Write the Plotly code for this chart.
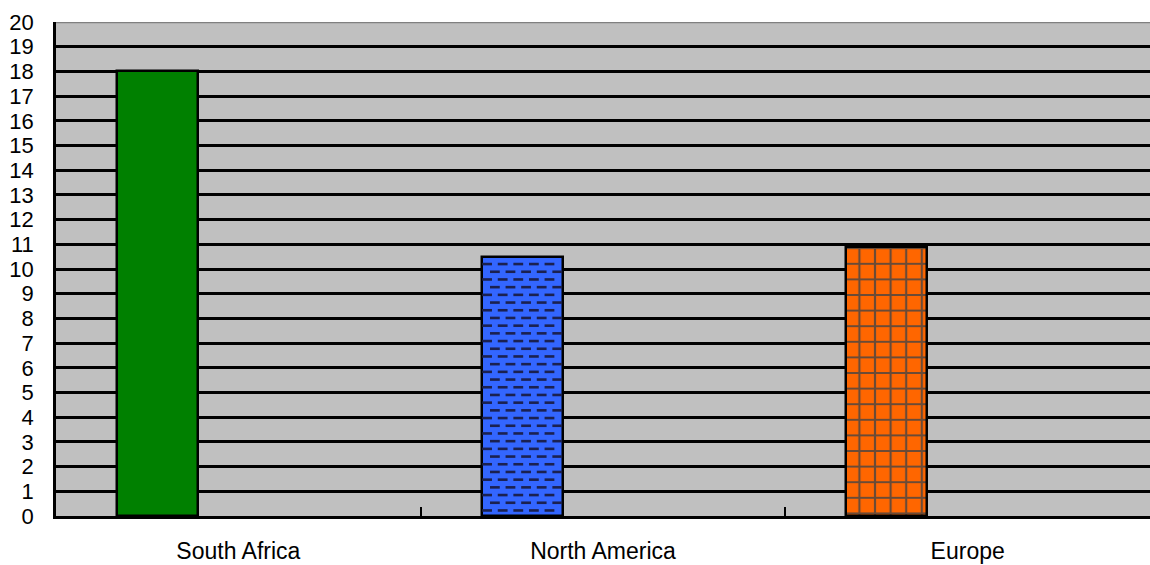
import plotly.graph_objects as go

# Chart data
regions = ["South Africa", "North America", "Europe"]
values = [18, 10.5, 10.9]
bar_colors = ["#008000", "#3366FF", "#FF6600"]
bar_patterns = ["", "", "+"]
y_ticks = list(range(0, 21))

# Bar geometry in category units (each category spans 1.0)
BAR_WIDTH = 0.222
BAR_OFFSET = -0.333

fig = go.Figure()

fig.add_trace(go.Bar(
    x=regions,
    y=values,
    width=BAR_WIDTH,
    offset=BAR_OFFSET,
    marker=dict(
        color=bar_colors,
        line=dict(color="black", width=2.5),
        pattern=dict(shape=bar_patterns, size=15.6, solidity=0.26,
                     fgcolor="#000000", fgopacity=0.8),
    ),
    showlegend=False,
    hoverinfo="x+y",
))

# Dashed fill texture for the North America bar, laid out on a numeric
# overlay axis that shares the category coordinates (0, 1, 2).
plot_w = 1150 - 56
unit_px_x = plot_w / 3.0
unit_px_y = (516 - 22) / 20.0
idx = regions.index("North America")
left = idx + BAR_OFFSET
right = left + BAR_WIDTH
top = values[idx]
dx = 15.6 / unit_px_x
half_dash = 3.5 / unit_px_x
row_step = 7.7 / unit_px_y
dash_x, dash_y = [], []
k = 0
y = top - 0.3
while y > 0.12:
    x = left + (2 / unit_px_x) + half_dash + (k % 2) * dx / 2
    while x + half_dash < right - 1 / unit_px_x:
        dash_x.append(x)
        dash_y.append(y)
        x += dx
    y -= row_step
    k += 1

fig.add_trace(go.Scatter(
    x=dash_x, y=dash_y, xaxis="x2", yaxis="y",
    mode="markers",
    marker=dict(symbol="line-ew", size=7,
                line=dict(width=2.6, color="#1b2150")),
    showlegend=False, hoverinfo="skip",
))

font_family = "Liberation Sans, Arial, sans-serif"

fig.update_layout(
    width=1150, height=565,
    margin=dict(l=56, r=0, t=22, b=49),
    paper_bgcolor="white",
    plot_bgcolor="#C0C0C0",
    font=dict(family=font_family, size=22, color="black"),
    bargap=0,
    xaxis=dict(
        type="category",
        range=[-0.5, 2.5],
        tickson="boundaries",
        ticks="inside", ticklen=9, tickwidth=2, tickcolor="black",
        showgrid=False,
        showline=True, linecolor="black", linewidth=2.5,
        tickfont=dict(size=23),
        ticklabelstandoff=13,
        automargin=False,
        fixedrange=True,
    ),
    xaxis2=dict(
        overlaying="x", range=[-0.5, 2.5], visible=False, fixedrange=True,
    ),
    yaxis=dict(
        range=[0, 20],
        tickvals=y_ticks,
        ticktext=[str(v) for v in y_ticks],
        ticks="inside", ticklen=8, tickwidth=2, tickcolor="black",
        showgrid=True, gridcolor="black", gridwidth=2.5,
        zeroline=False,
        showline=True, linecolor="black", linewidth=2.5,
        tickfont=dict(size=22),
        ticklabelstandoff=15,
        automargin=False,
        fixedrange=True,
    ),
    shapes=[
        # grey plot-area border along the top
        dict(type="line", xref="paper", yref="y", x0=0, x1=1, y0=20, y1=20,
             line=dict(color="#808080", width=2.5), layer="above"),
    ],
)

fig.write_html("out.html")
